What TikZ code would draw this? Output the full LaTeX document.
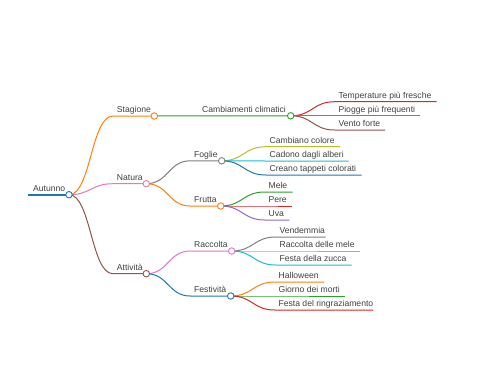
\documentclass[tikz,border=0pt]{standalone}
\usepackage{fontspec}
\setmainfont{Liberation Sans}
\usetikzlibrary{backgrounds}
\definecolor{cblue}{HTML}{1F77B4}
\definecolor{corange}{HTML}{FF7F0E}
\definecolor{cgreen}{HTML}{2CA02C}
\definecolor{cred}{HTML}{D62728}
\definecolor{cpurple}{HTML}{9467BD}
\definecolor{cbrown}{HTML}{8C564B}
\definecolor{cpink}{HTML}{E377C2}
\definecolor{cgray}{HTML}{7F7F7F}
\definecolor{colive}{HTML}{BCBD22}
\definecolor{ccyan}{HTML}{17BECF}

\begin{document}
\begin{tikzpicture}[
    x=1pt, y=-1pt,
    lbl/.style={anchor=base west, inner sep=0pt, font=\fontsize{8.6}{10}\selectfont, text=black!75},
    dot/.style={circle, draw=#1, fill=white, line width=0.9pt, minimum size=6.5pt, inner sep=0pt},
    edge/.style={draw=#1, line width=1pt}
]
\useasboundingbox (0,0) rectangle (480,384);

% root
\coordinate (autunno-s) at (27.5,194.7);
\node[dot=cblue] (autunno) at (69,194.7) {};
\node[lbl] (autunno-t) at (33,191.5) {Autunno};

% level 1
\coordinate (stagione-s) at (113,116);
\node[dot=corange] (stagione) at (154.3,116) {};
\node[lbl] (stagione-t) at (116.7,112.8) {Stagione};
\coordinate (natura-s) at (113,183.7);
\node[dot=cpink] (natura) at (146.3,183.7) {};
\node[lbl] (natura-t) at (116.7,180.5) {Natura};
\coordinate (attivita-s) at (113,273.7);
\node[dot=cbrown] (attivita) at (146.3,273.7) {};
\node[lbl] (attivita-t) at (116.7,270.5) {Attività};

% level 2
\coordinate (cambiamenti-s) at (198.3,115.8);
\node[dot=cgreen] (cambiamenti) at (290.7,115.8) {};
\node[lbl] (cambiamenti-t) at (202,112.6) {Cambiamenti climatici};
\coordinate (foglie-s) at (190.3,160.8);
\node[dot=cgray] (foglie) at (221.7,160.8) {};
\node[lbl] (foglie-t) at (194,157.6) {Foglie};
\coordinate (frutta-s) at (190.3,206);
\node[dot=corange] (frutta) at (220.7,206) {};
\node[lbl] (frutta-t) at (194,202.8) {Frutta};
\coordinate (raccolta-s) at (190.3,251);
\node[dot=cpink] (raccolta) at (231.7,251) {};
\node[lbl] (raccolta-t) at (194,247.8) {Raccolta};
\coordinate (festivita-s) at (190.3,296);
\node[dot=cblue] (festivita) at (230.7,296) {};
\node[lbl] (festivita-t) at (194,292.8) {Festività};

% leaves
\coordinate (temp-s) at (334.7,101.7);  \coordinate (temp-e) at (436.7,101.7);
\node[lbl] (temp-t) at (338.4,98.5) {Temperature più fresche};
\coordinate (piogge-s) at (334.7,115.8); \coordinate (piogge-e) at (420,115.8);
\node[lbl] (piogge-t) at (338.4,112.6) {Piogge più frequenti};
\coordinate (vento-s) at (334.7,130);    \coordinate (vento-e) at (385,130);
\node[lbl] (vento-t) at (338.4,126.8) {Vento forte};

\coordinate (colore-s) at (265.7,146.7); \coordinate (colore-e) at (340,146.7);
\node[lbl] (colore-t) at (269.4,143.5) {Cambiano colore};
\coordinate (alberi-s) at (265.7,161);   \coordinate (alberi-e) at (348.7,161);
\node[lbl] (alberi-t) at (269.4,157.8) {Cadono dagli alberi};
\coordinate (tappeti-s) at (265.7,175);  \coordinate (tappeti-e) at (361.7,175);
\node[lbl] (tappeti-t) at (269.4,171.8) {Creano tappeti colorati};

\coordinate (mele-s) at (264.7,192);     \coordinate (mele-e) at (292.7,192);
\node[lbl] (mele-t) at (268.4,188.8) {Mele};
\coordinate (pere-s) at (264.7,206);     \coordinate (pere-e) at (291.7,206);
\node[lbl] (pere-t) at (268.4,202.8) {Pere};
\coordinate (uva-s) at (264.7,220);      \coordinate (uva-e) at (289.3,220);
\node[lbl] (uva-t) at (268.4,216.8) {Uva};

\coordinate (vendemmia-s) at (275.7,237); \coordinate (vendemmia-e) at (325.7,237);
\node[lbl] (vendemmia-t) at (279.4,233.8) {Vendemmia};
\coordinate (racmele-s) at (275.7,251);   \coordinate (racmele-e) at (360,251);
\node[lbl] (racmele-t) at (279.4,247.8) {Raccolta delle mele};
\coordinate (zucca-s) at (275.7,265);     \coordinate (zucca-e) at (351.7,265);
\node[lbl] (zucca-t) at (279.4,261.8) {Festa della zucca};

\coordinate (halloween-s) at (274.7,282); \coordinate (halloween-e) at (324,282);
\node[lbl] (halloween-t) at (278.4,278.8) {Halloween};
\coordinate (morti-s) at (274.7,296);     \coordinate (morti-e) at (345,296);
\node[lbl] (morti-t) at (278.4,292.8) {Giorno dei morti};
\coordinate (ringr-s) at (274.7,310);     \coordinate (ringr-e) at (373.3,310);
\node[lbl] (ringr-t) at (278.4,306.8) {Festa del ringraziamento};

\begin{scope}[on background layer]
\draw[edge=cblue, line width=1.8pt] (autunno-s) -- (autunno.center);
% autunno
\draw[edge=corange] (autunno.center) .. controls +(22,0) and +(-22,0) .. (stagione-s) -- (stagione.center);
\draw[edge=cpink] (autunno.center) .. controls +(22,0) and +(-22,0) .. (natura-s) -- (natura.center);
\draw[edge=cbrown] (autunno.center) .. controls +(22,0) and +(-22,0) .. (attivita-s) -- (attivita.center);
% stagione
\draw[edge=cgreen] (stagione.center) -- (cambiamenti-s) -- (cambiamenti.center);
\draw[edge=cred] (cambiamenti.center) .. controls +(22,0) and +(-22,0) .. (temp-s) -- (temp-e);
\draw[edge=cpurple] (cambiamenti.center) .. controls +(22,0) and +(-22,0) .. (piogge-s) -- (piogge-e);
\draw[edge=cbrown] (cambiamenti.center) .. controls +(22,0) and +(-22,0) .. (vento-s) -- (vento-e);
% natura
\draw[edge=cgray] (natura.center) .. controls +(22,0) and +(-22,0) .. (foglie-s) -- (foglie.center);
\draw[edge=corange] (natura.center) .. controls +(22,0) and +(-22,0) .. (frutta-s) -- (frutta.center);
\draw[edge=colive] (foglie.center) .. controls +(22,0) and +(-22,0) .. (colore-s) -- (colore-e);
\draw[edge=ccyan] (foglie.center) .. controls +(22,0) and +(-22,0) .. (alberi-s) -- (alberi-e);
\draw[edge=cblue] (foglie.center) .. controls +(22,0) and +(-22,0) .. (tappeti-s) -- (tappeti-e);
\draw[edge=cgreen] (frutta.center) .. controls +(22,0) and +(-22,0) .. (mele-s) -- (mele-e);
\draw[edge=cred] (frutta.center) .. controls +(22,0) and +(-22,0) .. (pere-s) -- (pere-e);
\draw[edge=cpurple] (frutta.center) .. controls +(22,0) and +(-22,0) .. (uva-s) -- (uva-e);
% attivita
\draw[edge=cpink] (attivita.center) .. controls +(22,0) and +(-22,0) .. (raccolta-s) -- (raccolta.center);
\draw[edge=cblue] (attivita.center) .. controls +(22,0) and +(-22,0) .. (festivita-s) -- (festivita.center);
\draw[edge=cgray] (raccolta.center) .. controls +(22,0) and +(-22,0) .. (vendemmia-s) -- (vendemmia-e);
\draw[edge=colive] (raccolta.center) .. controls +(22,0) and +(-22,0) .. (racmele-s) -- (racmele-e);
\draw[edge=ccyan] (raccolta.center) .. controls +(22,0) and +(-22,0) .. (zucca-s) -- (zucca-e);
\draw[edge=corange] (festivita.center) .. controls +(22,0) and +(-22,0) .. (halloween-s) -- (halloween-e);
\draw[edge=cgreen] (festivita.center) .. controls +(22,0) and +(-22,0) .. (morti-s) -- (morti-e);
\draw[edge=cred] (festivita.center) .. controls +(22,0) and +(-22,0) .. (ringr-s) -- (ringr-e);
\end{scope}

\end{tikzpicture}
\end{document}
